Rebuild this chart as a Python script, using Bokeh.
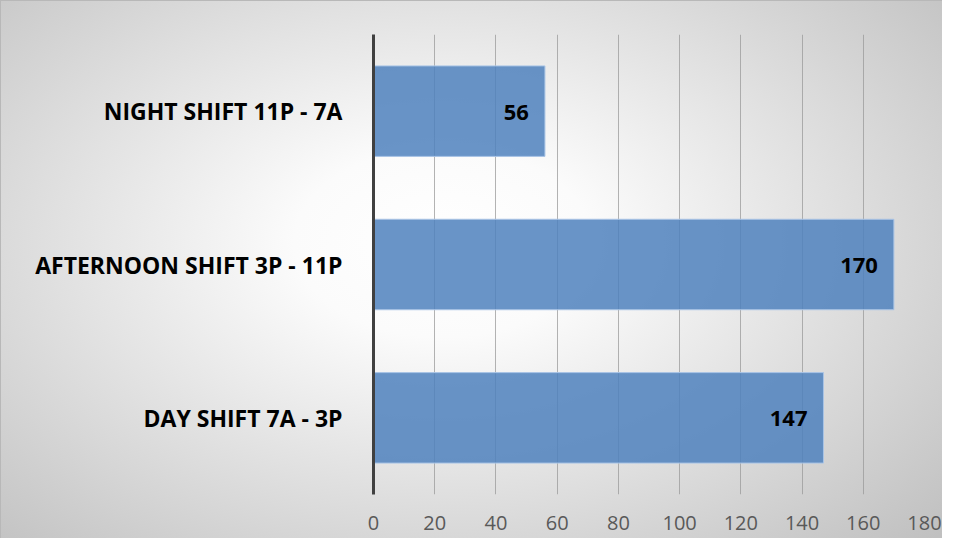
from bokeh.plotting import figure
from bokeh.models import ColumnDataSource, FactorRange, Range1d, FixedTicker, LabelSet
from bokeh.core.properties import value
from bokeh.embed import file_html
from bokeh.resources import INLINE

categories = ["DAY SHIFT 7A - 3P", "AFTERNOON SHIFT 3P - 11P", "NIGHT SHIFT 11P - 7A"]
counts = [147, 170, 56]
x_ticks = [0, 20, 40, 60, 80, 100, 120, 140, 160, 180]

source = ColumnDataSource(dict(cat=categories, count=counts,
                               label=[str(c) for c in counts]))

p = figure(width=942, height=538, output_backend="svg", toolbar_location=None,
           y_range=FactorRange(*categories, range_padding=0),
           x_range=Range1d(0, 180),
           min_border_left=372, min_border_right=19, min_border_top=33, min_border_bottom=45)

p.border_fill_color = None
p.background_fill_color = None
p.outline_line_color = None
p.styles = {
    "background": "radial-gradient(ellipse 72% 80% at 47% 45%, #ffffff 0%, #fbfbfb 22%, #c0c0c0 100%)",
    "border-top": "1px solid #b8b8b8",
    "border-left": "1px solid #b8b8b8",
}

p.hbar(y="cat", right="count", left=0, height=0.59, source=source,
       fill_color="#4F81BD", fill_alpha=0.85,
       line_color="#a9c4e6", line_width=1)

labels = LabelSet(x="count", y="cat", text="label", source=source,
                  x_offset=-16, y_offset=-1, text_align="right", text_baseline="middle",
                  text_font=value("Open Sans"), text_font_size="22px",
                  text_font_style="bold", text_color="#000000")
p.add_layout(labels)

p.xgrid.ticker = FixedTicker(ticks=x_ticks)
p.xgrid.grid_line_color = "#9a9a9a"
p.xgrid.grid_line_alpha = 0.75
p.ygrid.grid_line_color = None

p.xaxis.ticker = FixedTicker(ticks=x_ticks)
p.xaxis.axis_line_color = None
p.xaxis.major_tick_line_color = None
p.xaxis.minor_tick_line_color = None
p.xaxis.major_tick_out = 0
p.xaxis.major_label_standoff = 21
p.xaxis.major_label_text_font = "Open Sans"
p.xaxis.major_label_text_font_size = "20px"
p.xaxis.major_label_text_color = "#595959"

p.yaxis.axis_line_color = "#404040"
p.yaxis.axis_line_width = 3
p.yaxis.major_tick_line_color = None
p.yaxis.minor_tick_line_color = None
p.yaxis.major_tick_out = 0
p.yaxis.major_label_standoff = 31
p.yaxis.major_label_text_font = "Open Sans"
p.yaxis.major_label_text_font_size = "23px"
p.yaxis.major_label_text_font_style = "bold"
p.yaxis.major_label_text_color = "#000000"

open("out.html", "w").write(file_html(p, INLINE))
